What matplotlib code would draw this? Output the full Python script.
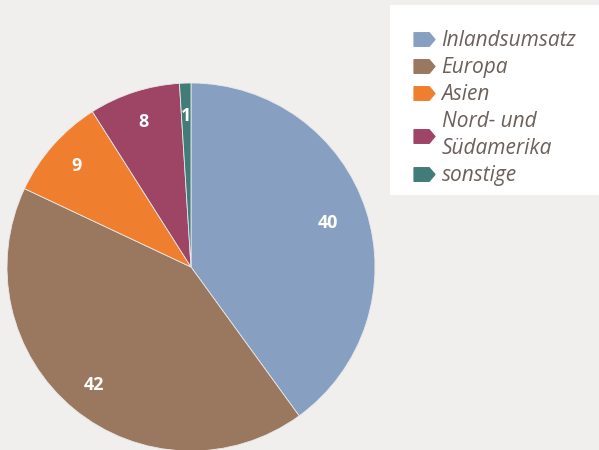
import numpy as np
import matplotlib.pyplot as plt
from matplotlib.path import Path
from matplotlib.lines import Line2D
from matplotlib.patches import Rectangle

categories = ['Inlandsumsatz', 'Europa', 'Asien', 'Nord- und\nSüdamerika', 'sonstige']
values = [40, 42, 9, 8, 1]
colors = ['#87a0c2', '#9a7860', '#ef7f2e', '#9e4566', '#427c78']
label_dist = [0.78, 0.83, 0.83, 0.83, 0.82]

bg = '#f0efed'
fig = plt.figure(figsize=(5.99, 4.5), dpi=100, facecolor=bg)

# pie axes: centre (191, 267) px, radius 184 px
W, H = 599, 450
cx, cy, r = 191, 267, 184
ax = fig.add_axes([(cx - r) / W, (H - cy - r) / H, 2 * r / W, 2 * r / H])
ax.set_facecolor(bg)
wedges, texts = ax.pie(values, colors=colors, startangle=90, counterclock=False,
                       labels=[str(v) for v in values], labeldistance=0.82,
                       wedgeprops=dict(edgecolor='#e8e8e8', linewidth=0.6),
                       textprops=dict(color='white', fontsize=13, fontweight='bold',
                                      family='Open Sans'))
for w, t, d in zip(wedges, texts, label_dist):
    ang = np.deg2rad((w.theta1 + w.theta2) / 2)
    t.set_position((d * np.cos(ang), d * np.sin(ang)))
    t.set_ha('center')
    t.set_va('center')
ax.set_xlim(-1, 1)
ax.set_ylim(-1, 1)
ax.axis('off')

# legend box
fig.patches.append(Rectangle((390 / W, (H - 195) / H), 209 / W, 190 / H,
                             transform=fig.transFigure, facecolor='white',
                             edgecolor='none', zorder=0))

tag = Path([(-1, -0.65), (0.45, -0.65), (1, 0), (0.45, 0.65), (-1, 0.65), (-1, -0.65)],
           [Path.MOVETO, Path.LINETO, Path.LINETO, Path.LINETO, Path.LINETO, Path.CLOSEPOLY])
handles = [Line2D([], [], marker=tag, markersize=15, color=c, linestyle='none')
           for c in colors]
leg = fig.legend(handles, categories, loc='upper left',
                 bbox_to_anchor=(403 / W, (H - 20) / H),
                 frameon=False, handlelength=1.0, handletextpad=0.35, labelspacing=0.28,
                 borderpad=0, prop=dict(family='Open Sans', style='italic', size=15),
                 labelcolor='#6b605a')
for t in leg.get_texts():
    t.set_linespacing(1.4)

fig.savefig('out.png', dpi=100, facecolor=bg)
